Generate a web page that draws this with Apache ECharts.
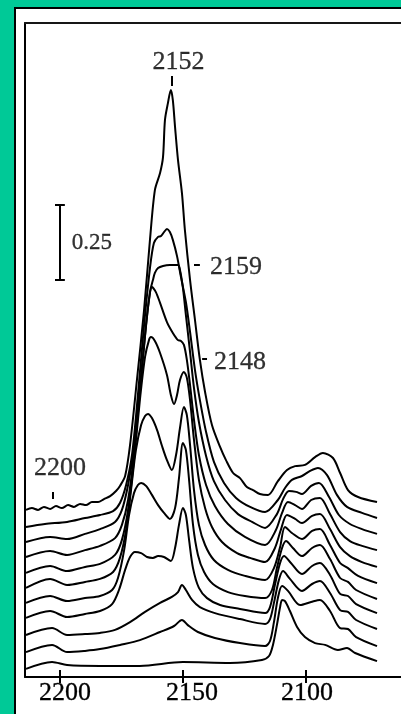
<!DOCTYPE html>
<html>
<head>
<meta charset="utf-8">
<script src="https://cdn.jsdelivr.net/npm/echarts@6/dist/echarts.min.js"></script>
<style>
html,body{margin:0;padding:0;background:#00c997;}
#chart{width:401px;height:714px;}
</style>
</head>
<body>
<div id="chart"></div>
<script>
// x: wavenumber (cm-1), y: absorbance (stacked spectra, offset)
const tickValues = [2100, 2150, 2200];
const xRange = [2061.35, 2214.2];
const yRange = [0, 2.18];

const c1 = [[2213.8,0.557],[2211.4,0.563],[2208.9,0.557],[2206.5,0.567],[2204.0,0.560],[2201.6,0.570],[2199.2,0.563],[2196.7,0.573],[2194.3,0.567],[2191.8,0.577],[2189.4,0.573],[2187.0,0.583],[2184.5,0.583],[2182.1,0.593],[2179.6,0.603],[2177.2,0.620],[2175.6,0.637],[2173.5,0.670],[2171.5,0.773],[2168.7,0.990],[2165.8,1.223],[2163.4,1.457],[2161.4,1.623],[2159.3,1.680],[2158.1,1.733],[2157.3,1.857],[2156.1,1.913],[2154.9,1.957],[2154.1,1.923],[2153.2,1.833],[2152.0,1.723],[2150.4,1.613],[2149.2,1.490],[2147.1,1.323],[2145.1,1.190],[2143.1,1.057],[2141.0,0.950],[2138.2,0.840],[2134.9,0.767],[2132.5,0.723],[2129.6,0.680],[2126.8,0.663],[2124.0,0.633],[2121.5,0.623],[2118.7,0.610],[2115.4,0.607],[2111.4,0.653],[2107.7,0.690],[2104.4,0.703],[2100.4,0.707],[2096.3,0.733],[2093.1,0.747],[2089.0,0.730],[2086.1,0.680],[2082.9,0.623],[2078.8,0.600],[2071.1,0.583]];
const c2 = [[2213.8,0.500],[2206.1,0.510],[2197.1,0.517],[2189.8,0.530],[2183.7,0.540],[2178.4,0.553],[2175.6,0.580],[2173.1,0.640],[2170.7,0.740],[2168.3,0.940],[2165.8,1.173],[2163.4,1.363],[2161.8,1.447],[2160.1,1.467],[2158.9,1.470],[2157.7,1.483],[2156.5,1.493],[2155.3,1.483],[2154.1,1.457],[2152.4,1.403],[2150.8,1.333],[2148.8,1.250],[2147.1,1.150],[2145.1,1.023],[2143.1,0.923],[2140.6,0.817],[2137.4,0.717],[2133.3,0.647],[2128.4,0.597],[2122.7,0.567],[2116.6,0.550],[2111.4,0.590],[2108.5,0.630],[2105.7,0.657],[2101.6,0.670],[2098.3,0.687],[2095.1,0.697],[2091.4,0.673],[2087.4,0.607],[2083.3,0.567],[2077.2,0.547],[2071.1,0.530]];
const c3 = [[2213.8,0.450],[2204.0,0.467],[2197.1,0.460],[2189.8,0.477],[2183.7,0.493],[2177.6,0.517],[2174.8,0.557],[2172.3,0.640],[2169.9,0.763],[2167.5,0.963],[2165.0,1.173],[2163.4,1.283],[2162.2,1.323],[2161.4,1.347],[2160.1,1.363],[2158.1,1.370],[2155.3,1.373],[2152.0,1.373],[2151.2,1.357],[2150.0,1.297],[2148.8,1.207],[2147.1,1.083],[2145.5,0.963],[2143.5,0.850],[2140.6,0.737],[2137.4,0.653],[2132.9,0.590],[2127.6,0.543],[2121.9,0.517],[2116.6,0.497],[2111.8,0.543],[2109.3,0.593],[2106.9,0.620],[2104.0,0.617],[2101.6,0.610],[2097.9,0.637],[2094.7,0.647],[2090.6,0.600],[2086.6,0.540],[2082.1,0.510],[2077.2,0.493],[2071.1,0.477]];
const c4 = [[2213.8,0.400],[2204.0,0.420],[2197.1,0.407],[2189.8,0.423],[2183.7,0.437],[2177.6,0.463],[2174.8,0.507],[2172.3,0.590],[2169.9,0.740],[2167.5,0.950],[2165.4,1.137],[2163.8,1.257],[2162.6,1.300],[2161.0,1.283],[2159.3,1.247],[2156.5,1.183],[2154.1,1.147],[2152.0,1.123],[2150.8,1.120],[2149.6,1.107],[2148.4,1.057],[2147.1,0.973],[2145.5,0.857],[2143.5,0.740],[2140.6,0.640],[2137.0,0.570],[2131.7,0.510],[2124.8,0.467],[2116.6,0.440],[2112.2,0.490],[2109.7,0.547],[2107.3,0.583],[2104.4,0.573],[2101.6,0.560],[2097.9,0.590],[2094.3,0.597],[2090.2,0.543],[2086.1,0.483],[2082.1,0.453],[2077.2,0.437],[2071.1,0.423]];
const c5 = [[2213.8,0.347],[2204.0,0.370],[2197.1,0.353],[2189.8,0.367],[2183.7,0.377],[2177.6,0.407],[2174.8,0.457],[2172.3,0.557],[2169.9,0.723],[2167.5,0.923],[2165.4,1.067],[2163.8,1.123],[2163.0,1.133],[2161.4,1.120],[2159.3,1.080],[2156.5,1.007],[2154.9,0.940],[2153.6,0.910],[2152.4,0.940],[2151.2,0.990],[2149.6,1.017],[2148.4,0.997],[2147.1,0.923],[2145.5,0.790],[2143.5,0.657],[2141.0,0.563],[2138.2,0.500],[2134.1,0.450],[2128.0,0.413],[2122.7,0.397],[2116.6,0.383],[2112.6,0.430],[2110.1,0.493],[2107.7,0.540],[2104.4,0.527],[2101.6,0.513],[2097.5,0.537],[2094.3,0.543],[2090.2,0.493],[2086.1,0.433],[2082.1,0.403],[2077.2,0.383],[2071.1,0.367]];
const c6 = [[2213.8,0.297],[2204.0,0.327],[2197.1,0.307],[2189.8,0.317],[2183.7,0.327],[2178.4,0.350],[2175.6,0.397],[2173.1,0.490],[2171.1,0.623],[2169.1,0.757],[2167.0,0.840],[2165.4,0.870],[2164.2,0.877],[2162.6,0.863],[2160.5,0.823],[2158.5,0.770],[2156.5,0.723],[2154.5,0.690],[2152.8,0.740],[2151.2,0.830],[2149.6,0.900],[2148.4,0.873],[2147.1,0.773],[2145.5,0.623],[2143.5,0.507],[2141.0,0.440],[2137.4,0.390],[2131.7,0.357],[2124.8,0.337],[2116.6,0.323],[2113.0,0.363],[2110.5,0.433],[2108.5,0.500],[2105.7,0.480],[2101.6,0.460],[2097.5,0.487],[2094.3,0.493],[2090.2,0.440],[2086.1,0.380],[2082.9,0.363],[2078.8,0.337],[2071.1,0.313]];
const c7 = [[2213.8,0.247],[2204.0,0.270],[2197.1,0.253],[2189.8,0.263],[2183.7,0.270],[2178.8,0.290],[2176.4,0.330],[2173.9,0.423],[2171.9,0.540],[2169.9,0.613],[2168.3,0.640],[2167.0,0.647],[2165.0,0.637],[2162.6,0.607],[2160.1,0.573],[2157.7,0.547],[2155.3,0.527],[2153.2,0.563],[2151.6,0.663],[2150.0,0.780],[2148.8,0.757],[2147.5,0.657],[2145.9,0.507],[2143.9,0.407],[2141.4,0.350],[2137.8,0.310],[2131.7,0.283],[2124.8,0.270],[2116.6,0.263],[2113.8,0.290],[2111.8,0.363],[2109.7,0.430],[2108.1,0.453],[2105.3,0.430],[2101.6,0.403],[2097.5,0.430],[2094.3,0.440],[2090.2,0.393],[2086.1,0.330],[2082.9,0.317],[2079.6,0.290],[2071.1,0.260]];
const c8 = [[2213.8,0.197],[2204.0,0.220],[2197.1,0.200],[2189.8,0.210],[2183.7,0.220],[2178.8,0.243],[2176.0,0.290],[2173.5,0.357],[2171.5,0.400],[2169.5,0.417],[2167.0,0.413],[2164.6,0.400],[2162.2,0.397],[2160.1,0.403],[2157.7,0.400],[2154.9,0.387],[2153.2,0.430],[2151.6,0.507],[2150.0,0.563],[2148.8,0.540],[2147.5,0.457],[2145.9,0.363],[2143.5,0.297],[2140.2,0.263],[2134.9,0.240],[2126.8,0.227],[2116.6,0.213],[2114.6,0.233],[2112.6,0.307],[2110.5,0.380],[2108.9,0.403],[2106.1,0.380],[2101.6,0.343],[2097.5,0.370],[2094.3,0.380],[2090.2,0.340],[2086.1,0.277],[2082.9,0.270],[2079.6,0.243],[2071.1,0.213]];
const c9 = [[2213.8,0.140],[2203.2,0.163],[2197.1,0.140],[2189.8,0.143],[2183.7,0.147],[2177.6,0.157],[2171.5,0.183],[2165.4,0.217],[2159.3,0.247],[2154.5,0.267],[2152.0,0.283],[2150.4,0.307],[2148.8,0.290],[2146.3,0.257],[2143.1,0.233],[2137.0,0.213],[2126.8,0.193],[2116.6,0.177],[2114.6,0.193],[2113.0,0.247],[2111.0,0.323],[2109.3,0.353],[2106.5,0.327],[2101.6,0.287],[2097.5,0.310],[2094.3,0.320],[2090.2,0.280],[2086.1,0.223],[2082.9,0.217],[2079.6,0.190],[2071.1,0.160]];
const c10 = [[2213.8,0.083],[2203.2,0.107],[2197.1,0.083],[2189.8,0.087],[2183.7,0.093],[2175.6,0.107],[2167.5,0.123],[2159.3,0.150],[2153.6,0.170],[2150.4,0.190],[2148.0,0.173],[2143.9,0.150],[2137.0,0.130],[2126.8,0.113],[2116.6,0.103],[2114.6,0.120],[2113.0,0.183],[2111.4,0.263],[2109.7,0.303],[2107.3,0.287],[2102.4,0.240],[2097.9,0.250],[2094.3,0.257],[2090.2,0.220],[2086.1,0.163],[2082.9,0.160],[2079.6,0.133],[2071.1,0.103]];
const c11 = [[2213.8,0.027],[2203.2,0.050],[2197.1,0.040],[2183.7,0.037],[2167.5,0.037],[2150.0,0.050],[2130.9,0.047],[2117.9,0.057],[2115.0,0.070],[2113.4,0.107],[2111.8,0.173],[2110.5,0.233],[2109.7,0.257],[2108.5,0.253],[2106.5,0.220],[2103.6,0.167],[2100.4,0.133],[2096.3,0.113],[2092.2,0.107],[2087.0,0.090],[2083.3,0.097],[2080.0,0.080],[2071.1,0.053]];

// annotation texts: [text, wavenumber, absorbance, fontSize]
const annotations = [
  ['2152', 2151.8, 2.050, 26],
  ['2159', 2128.4, 1.367, 26],
  ['2148', 2126.8, 1.050, 26],
  ['2200', 2200.0, 0.697, 26],
  ['0.25', 2187.0, 1.447, 23]
];
// leader marks and 0.25 absorbance scale bar, in data units
const leaderSegments = [
  [[2154.4, 2.003], [2154.4, 1.970]],
  [[2145.5, 1.373], [2143.1, 1.373]],
  [[2142.2, 1.060], [2140.2, 1.060]],
  [[2202.8, 0.617], [2202.8, 0.593]]
];
const scaleBar = [
  [[2200.0, 1.573], [2200.0, 1.323]],
  [[2202.0, 1.573], [2198.0, 1.573]],
  [[2202.0, 1.323], [2198.0, 1.323]]
];

const spectra = [c1, c2, c3, c4, c5, c6, c7, c8, c9, c10, c11];
const labelShift = {2200: 10, 2150: 18, 2100: 2};
const serif = "'Liberation Serif', 'Times New Roman', serif";

const chart = echarts.init(document.getElementById('chart'), null, {renderer: 'canvas'});
const rich = {};
tickValues.forEach(v => {
  rich['o' + v] = {fontSize: 26, fontFamily: serif, color: '#000', textBorderColor: '#000', textBorderWidth: 0.3,
    padding: [0, 0, 0, labelShift[v]]};
});

const baseX = {type: 'value', inverse: true, min: xRange[0], max: xRange[1], splitLine: {show: false}, gridIndex: 0};

const option = {
  backgroundColor: '#00c997',
  animation: false,
  graphic: [{
    type: 'rect', z: -10, silent: true,
    shape: {x: 15, y: 8, width: 420, height: 730},
    style: {fill: '#ffffff', stroke: '#000', lineWidth: 2}
  }],
  grid: {left: 25, right: 0, top: 23, bottom: 37, containLabel: false, outerBoundsMode: 'none'},
  xAxis: [
    Object.assign({}, baseX, {
      position: 'bottom',
      axisLine: {show: true, lineStyle: {color: '#000', width: 2}},
      axisTick: {show: true, customValues: tickValues, length: 6, lineStyle: {color: '#000', width: 2}},
      axisLabel: {show: true, customValues: tickValues, margin: 3, color: '#000', fontSize: 26, fontFamily: serif,
        formatter: v => '{o' + v + '|' + v + '}', rich: rich}
    }),
    Object.assign({}, baseX, {
      position: 'bottom',
      axisLine: {show: false},
      axisTick: {show: true, inside: true, customValues: tickValues, length: 7, lineStyle: {color: '#000', width: 2}},
      axisLabel: {show: false}
    }),
    Object.assign({}, baseX, {
      position: 'top',
      axisLine: {show: true, lineStyle: {color: '#161616', width: 2}},
      axisTick: {show: false},
      axisLabel: {show: false}
    })
  ],
  yAxis: [{
    type: 'value', min: yRange[0], max: yRange[1],
    axisLine: {show: true, lineStyle: {color: '#000', width: 2}},
    axisTick: {show: false}, axisLabel: {show: false}, splitLine: {show: false}
  }],
  series: spectra.map((d, i) => ({
    type: 'line', name: 'spectrum ' + (i + 1), data: d, xAxisIndex: 0, yAxisIndex: 0,
    showSymbol: false, symbol: 'none', smooth: 0.3,
    lineStyle: {color: '#000', width: 2}, silent: true, z: 3
  })).concat([
    {
      type: 'lines', coordinateSystem: 'cartesian2d', xAxisIndex: 0, yAxisIndex: 0, silent: true, z: 4,
      lineStyle: {color: '#000', width: 2, opacity: 1},
      data: leaderSegments.concat(scaleBar).map(s => ({coords: s}))
    },
    {
      type: 'scatter', xAxisIndex: 0, yAxisIndex: 0, silent: true, z: 5,
      symbolSize: 1, itemStyle: {color: 'rgba(0,0,0,0)'},
      data: annotations.map(a => ({name: a[0], value: [a[1], a[2]],
        label: {fontSize: a[3], color: '#000', textBorderColor: '#000', textBorderWidth: 0.3}})),
      label: {show: true, position: 'inside', formatter: '{b}', color: '#000', fontFamily: serif,
        textBorderColor: '#000', textBorderWidth: 0.3}
    }
  ])
};
chart.setOption(option);
</script>
</body>
</html>
